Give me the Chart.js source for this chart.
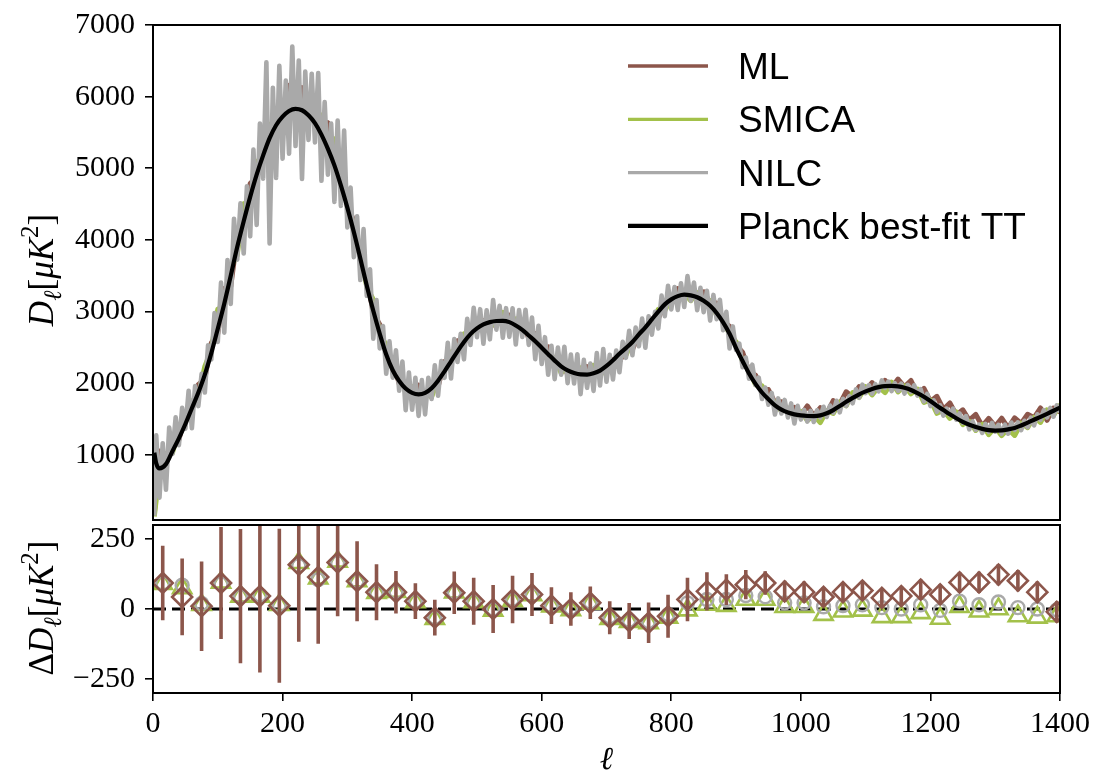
<!DOCTYPE html>
<html>
<head>
<meta charset="utf-8">
<script src="https://cdn.jsdelivr.net/npm/chart.js@4.4.1/dist/chart.umd.min.js"></script>
<style>
  body { margin: 0; background: #fff; }
  #wrap { position: relative; width: 1094px; height: 774px; }
  canvas { position: absolute; left: 0; }
  #top { top: 0; }
  #bottom { top: 500px; }
</style>
</head>
<body>
<div id="wrap">
  <canvas id="top" width="1094" height="545"></canvas>
  <canvas id="bottom" width="1094" height="274"></canvas>
</div>
<script>
// --- data ---

// multipole grids
const nilcEll = [2].concat(Array.from({length: 280}, (_, i) => 5 + 5 * i));
const mapEll = [2].concat(Array.from({length: 140}, (_, i) => 10 + 10 * i));
const fitEll = [2, 5].concat(Array.from({length: 140}, (_, i) => 10 + 10 * i));
const binEll = Array.from({length: 47}, (_, i) => 15 + 30 * i);

// D_ell of NILC map (every 5th multipole)
const nilc = [150, 1272, 402, 1162, 512, 1382, 1015, 1525, 1135, 1655, 1365, 1895, 1370, 1960, 1680, 2130, 1870, 2530, 2330, 2980,
  2575, 3405, 2705, 3720, 3105, 4295, 3725, 4510, 3810, 4750,
  4050, 5260, 4210, 5625, 4855, 6480, 3950, 6125, 4865, 6430,
  5135, 6225, 5205, 6700, 5310, 6505, 4850, 6350, 5395, 6320,
  5360, 6330, 4825, 5925, 4910, 5625, 4530, 5665, 4475, 5525,
  4175, 4730, 3760, 4330, 3440, 4150, 3220, 3590, 2620, 3160,
  2486, 2798, 2132, 2583, 2077, 2459, 1894, 2301, 1623, 2149,
  1629, 2076, 1543, 2043, 1565, 2075, 1780, 2250, 1825, 2310,
  2075, 2565, 2065, 2615, 2295, 2690, 2333, 2898, 2533, 3053,
  2643, 3033, 2550, 3018, 2612, 3162, 2748, 3080, 2635, 3047,
  2647, 3045, 2540, 3020, 2645, 3025, 2535, 2915, 2335, 2800,
  2267, 2642, 2117, 2522, 2057, 2497, 2118, 2508, 2001, 2401,
  1995, 2403, 1847, 2325, 1935, 2273, 1893, 2420, 1967, 2477,
  2020, 2396, 2052, 2457, 2154, 2578, 2354, 2730, 2391, 2777,
  2515, 2901, 2495, 2934, 2677, 2996, 2764, 3222, 2936, 3360,
  3030, 3343, 3021, 3394, 3065, 3494, 3151, 3405, 3018, 3332,
  2992, 3290, 2874, 3232, 2894, 3165, 2740, 2996, 2484, 2792,
  2463, 2553, 2223, 2358, 2063, 2258, 1974, 2079, 1779, 1939,
  1699, 1864, 1562, 1787, 1577, 1767, 1522, 1717, 1437, 1684,
  1492, 1627, 1464, 1612, 1458, 1622, 1518, 1671, 1528, 1688,
  1587, 1754, 1592, 1782, 1682, 1820, 1720, 1915, 1800, 1980,
  1860, 1974, 1853, 1986, 1886, 2038, 1933, 2023, 1890, 1999,
  1891, 1994, 1855, 1977, 1880, 1970, 1827, 1915, 1745, 1851,
  1681, 1761, 1600, 1690, 1548, 1646, 1561, 1645, 1490, 1577,
  1449, 1540, 1355, 1467, 1347, 1422, 1305, 1432, 1322, 1446,
  1323, 1419, 1293, 1420, 1296, 1450, 1348, 1453, 1343, 1475,
  1386, 1518, 1410, 1566, 1490, 1623, 1521, 1654, 1532, 1690,
  1593];

// D_ell of ML map (every 10th multipole)
const ml = [170, 1053, 888, 1173, 1213, 1563, 1620, 1980, 2060, 2563,
  2693, 3323, 3346, 4046, 4126, 4786, 4876, 5386, 5232, 5732,
  5592, 6158, 5888, 6128, 5734, 5924, 5504, 5636, 5066, 5026,
  4469, 4269, 3739, 3470, 2980, 2820, 2420, 2320, 1990, 2013,
  1823, 1973, 1789, 1971, 1950, 2304, 2327, 2593, 2540, 2758,
  2721, 2874, 2762, 2913, 2823, 2949, 2803, 2869, 2627, 2691,
  2444, 2507, 2282, 2307, 2124, 2223, 2108, 2232, 2097, 2189,
  2153, 2331, 2297, 2482, 2469, 2680, 2703, 2897, 2904, 3116,
  3095, 3319, 3234, 3315, 3221, 3276, 3115, 3119, 2870, 2794,
  2529, 2433, 2162, 2113, 1909, 1910, 1729, 1741, 1593, 1661,
  1554, 1682, 1543, 1657, 1575, 1757, 1708, 1880, 1805, 1951,
  1887, 2008, 1905, 2040, 1936, 2057, 1949, 2038, 1849, 1927,
  1746, 1817, 1637, 1724, 1557, 1628, 1483, 1563, 1401, 1508,
  1397, 1511, 1376, 1516, 1439, 1566, 1518, 1654, 1482, 1653,
  1594];

// D_ell of SMICA map (every 10th multipole)
const smica = [140, 765, 1020, 1025, 1375, 1455, 1745, 1825, 2235, 2465,
  3035, 3065, 3625, 3785, 4505, 4525, 5095, 5125, 5615, 5455,
  5855, 5785, 6075, 5775, 5990, 5640, 5740, 5320, 5410, 4830,
  4640, 4140, 3880, 3338, 3168, 2688, 2532, 2192, 2182, 1870,
  1950, 1780, 1866, 1805, 2063, 2180, 2437, 2451, 2690, 2665,
  2871, 2752, 2883, 2791, 2990, 2828, 2898, 2750, 2796, 2563,
  2559, 2334, 2361, 2142, 2238, 2094, 2214, 2086, 2248, 2095,
  2268, 2236, 2393, 2389, 2600, 2588, 2779, 2805, 3033, 3014,
  3182, 3148, 3259, 3151, 3265, 3131, 3152, 2950, 2932, 2667,
  2578, 2302, 2193, 1976, 1964, 1773, 1740, 1608, 1652, 1525,
  1606, 1478, 1552, 1450, 1616, 1577, 1736, 1684, 1870, 1800,
  1952, 1836, 1949, 1868, 2014, 1879, 1963, 1851, 1918, 1732,
  1764, 1579, 1623, 1509, 1598, 1421, 1468, 1340, 1426, 1281,
  1386, 1268, 1362, 1270, 1441, 1380, 1524, 1452, 1627, 1550,
  1707];

// Planck best-fit TT
const bestFit = [1030, 880, 810, 870, 1050, 1230, 1430, 1650, 1870, 2120, 2420,
  2760, 3110, 3500, 3900, 4260, 4600, 4910, 5180, 5420, 5600,
  5720, 5800, 5830, 5810, 5740, 5630, 5470, 5270, 5040, 4760,
  4450, 4110, 3740, 3360, 3010, 2690, 2400, 2180, 2030, 1925,
  1865, 1845, 1865, 1930, 2035, 2165, 2305, 2445, 2575, 2685,
  2765, 2820, 2852, 2868, 2870, 2852, 2805, 2745, 2665, 2585,
  2495, 2405, 2315, 2235, 2178, 2142, 2122, 2120, 2138, 2175,
  2240, 2320, 2410, 2490, 2575, 2680, 2780, 2890, 3000, 3100,
  3170, 3215, 3235, 3225, 3200, 3150, 3080, 2980, 2850, 2690,
  2490, 2310, 2135, 1990, 1870, 1775, 1690, 1630, 1590, 1565,
  1550, 1542, 1540, 1550, 1580, 1625, 1680, 1740, 1795, 1845,
  1885, 1920, 1945, 1960, 1962, 1955, 1935, 1905, 1860, 1810,
  1750, 1685, 1625, 1565, 1510, 1461, 1420, 1388, 1362, 1345,
  1338, 1340, 1355, 1375, 1410, 1450, 1490, 1530, 1572, 1615,
  1660];

// binned residuals w.r.t. best fit
const mlRes = [93, 43, 10, 93, 46, 46, 12, 158, 114, 166, 99, 60, 60, 28, -31, 58, 28, 0, 34, 52,
  12, 0, 22, -31, -43, -49, -26, 34, 63, 69, 87, 93, 63, 60, 43, 60, 66, 40, 46, 69,
  52, 95, 95, 123, 101, 60, -10];
const mlErr = [133, 137, 160, 200, 240, 273, 275, 275, 238, 192, 143, 100, 76, 64, 64, 76, 84, 86, 85, 77,
  66, 60, 58, 59, 64, 72, 77, 78, 68, 55, 52, 42, 38, 38, 36, 35, 35, 35, 35, 36,
  36, 37, 38, 38, 38, 38, 38];
const smicaRes = [90, 75, 15, 95, 45, 45, 15, 165, 110, 170, 100, 58, 62, 25, -35, 60, 25, -5, 30, 50,
  10, -3, 20, -35, -45, -50, -30, -4, 16, 12, 34, 34, 8, 8, -20, -8, -5, -28, -28, -14,
  -34, 8, -8, 0, -25, -30, -25];
const nilcRes = [92, 85, 20, 90, 45, 50, 15, 155, 105, 165, 100, 60, 62, 28, -30, 60, 28, 0, 35, 50,
  12, 3, 25, -28, -40, -45, -20, 22, 34, 34, 48, 44, 22, 22, 8, 12, 15, 5, 0, 15,
  -5, 28, 15, 25, 5, 0, -3];

// tick labels
const topTicks = [1000, 2000, 3000, 4000, 5000, 6000, 7000];
const resTicks = [-250, 0, 250];
const xTicks = [0, 200, 400, 600, 800, 1000, 1200, 1400];

// --- styling ---
const ML_COLOR = '#8c564b';
const SMICA_COLOR = '#a3c14a';
const NILC_COLOR = '#a9a9a9';
const SERIF = "'Liberation Serif', 'DejaVu Serif', serif";
const SANS = "'Liberation Sans', 'DejaVu Sans', sans-serif";
const AXIS_LEFT = 153;

function pts(xs, ys) {
  return xs.map((x, i) => ({x: x, y: ys[i]}));
}

const framePlugin = {
  id: 'frame',
  afterDraw(chart) {
    const {ctx, chartArea: a} = chart;
    ctx.save();
    ctx.strokeStyle = '#000';
    ctx.lineWidth = 2;
    ctx.strokeRect(a.left, a.top, a.right - a.left, a.bottom - a.top);
    ctx.restore();
  }
};

// D_ell [mu K^2] style label, pieces laid out left to right
function drawMath(ctx, parts, x, y, size, rotate) {
  ctx.save();
  ctx.translate(x, y);
  if (rotate) ctx.rotate(-Math.PI / 2);
  let total = 0;
  const font = p => (p.it ? 'italic ' : '') + Math.round(size * (p.s || 1)) + 'px ' + SERIF;
  parts.forEach(p => {
    ctx.font = font(p);
    p.w = ctx.measureText(p.t).width;
    total += p.w;
  });
  let cx = -total / 2;
  ctx.fillStyle = '#000';
  ctx.textBaseline = 'alphabetic';
  ctx.textAlign = 'left';
  parts.forEach(p => {
    ctx.font = font(p);
    ctx.fillText(p.t, cx, (p.dy || 0) * size);
    cx += p.w;
  });
  ctx.restore();
}

const unitParts = [
  {t: 'D', it: true},
  {t: 'ℓ', it: true, s: 0.7, dy: 0.22},
  {t: '['},
  {t: 'μ', it: true},
  {t: 'K', it: true},
  {t: '2', s: 0.7, dy: -0.42},
  {t: ']'}
];

const topDecor = {
  id: 'topDecor',
  afterDraw(chart) {
    const ctx = chart.ctx;
    drawMath(ctx, unitParts.map(p => Object.assign({}, p)), 53, 270, 35, true);
    // legend, ML first
    const rows = [3, 2, 1, 0].map(i => chart.data.datasets[i]);
    ctx.save();
    rows.forEach((ds, k) => {
      const y = 66 + k * 53.3;
      ctx.strokeStyle = ds.borderColor;
      ctx.lineWidth = ds.order === 0 ? 4.2 : 3.3;
      ctx.beginPath();
      ctx.moveTo(628, y);
      ctx.lineTo(708, y);
      ctx.stroke();
      ctx.fillStyle = '#000';
      ctx.font = '37px ' + SANS;
      ctx.textBaseline = 'alphabetic';
      ctx.fillText(ds.label, 738, y + 13);
    });
    ctx.restore();
  }
};

const bottomDecor = {
  id: 'bottomDecor',
  afterDraw(chart) {
    const ctx = chart.ctx;
    drawMath(ctx, [{t: 'Δ'}].concat(unitParts.map(p => Object.assign({}, p))), 53, 108, 35, true);
    ctx.save();
    ctx.fillStyle = '#000';
    ctx.font = 'italic 32px ' + SERIF;
    ctx.textAlign = 'center';
    ctx.textBaseline = 'alphabetic';
    ctx.fillText('ℓ', (chart.chartArea.left + chart.chartArea.right) / 2, 269);
    ctx.restore();
  }
};

const tickFont = {family: SERIF, size: 30, lineHeight: 1};
const gridOpts = {drawOnChartArea: false, tickLength: 8, lineWidth: 1.6, tickWidth: 1.6, tickColor: '#000', color: '#000'};
const plainNum = v => v < 0 ? '\u2212' + Math.abs(v) : String(v);

new Chart(document.getElementById('top'), {
  type: 'line',
  data: {
    datasets: [
      {label: 'Planck best-fit TT', data: pts(fitEll, bestFit), borderColor: '#000', borderWidth: 4.2,
        pointRadius: 0, cubicInterpolationMode: 'monotone', order: 0},
      {label: 'NILC', data: pts(nilcEll, nilc), borderColor: NILC_COLOR, borderWidth: 4.6,
        pointRadius: 0, tension: 0, borderJoinStyle: 'round', order: 1},
      {label: 'SMICA', data: pts(mapEll, smica), borderColor: SMICA_COLOR, borderWidth: 5,
        pointRadius: 0, tension: 0, borderJoinStyle: 'round', order: 2},
      {label: 'ML', data: pts(mapEll, ml), borderColor: ML_COLOR, borderWidth: 5,
        pointRadius: 0, tension: 0, borderJoinStyle: 'round', order: 3}
    ]
  },
  options: {
    responsive: false,
    animation: false,
    devicePixelRatio: 1,
    layout: {padding: {top: 19, right: 34, bottom: 20, left: 0}},
    plugins: {legend: {display: false}, tooltip: {enabled: false}},
    scales: {
      x: {type: 'linear', min: 0, max: 1400, display: false},
      y: {
        type: 'linear', min: 90, max: 7000,
        afterBuildTicks: s => { s.ticks = topTicks.map(v => ({value: v})); },
        afterFit: s => { s.width = AXIS_LEFT; },
        grid: gridOpts,
        border: {display: false},
        ticks: {color: '#000', font: tickFont, padding: 10, callback: plainNum}
      }
    }
  },
  plugins: [framePlugin, topDecor]
});

const errBars = [];
binEll.forEach((l, i) => {
  errBars.push({x: l, y: mlRes[i] - mlErr[i]}, {x: l, y: mlRes[i] + mlErr[i]}, {x: l, y: null});
});

new Chart(document.getElementById('bottom'), {
  type: 'line',
  data: {
    datasets: [
      {label: 'ML', data: pts(binEll, mlRes), showLine: false, pointStyle: 'rectRot', pointRadius: 10,
        pointBorderWidth: 2.6, pointBorderColor: ML_COLOR, pointBackgroundColor: 'rgba(0,0,0,0)', order: 0},
      {label: 'ML err', data: errBars, borderColor: ML_COLOR, borderWidth: 3.6, pointRadius: 0,
        spanGaps: false, borderCapStyle: 'butt', order: 1},
      {label: 'NILC', data: pts(binEll, nilcRes), showLine: false, pointStyle: 'circle', pointRadius: 6.5,
        pointBorderWidth: 2.4, pointBorderColor: NILC_COLOR, pointBackgroundColor: 'rgba(0,0,0,0)', order: 2},
      {label: 'SMICA', data: pts(binEll, smicaRes), showLine: false, pointStyle: 'triangle', pointRadius: 10.5,
        pointBorderWidth: 2.6, pointBorderColor: SMICA_COLOR, pointBackgroundColor: 'rgba(0,0,0,0)', order: 3},
      {label: 'zero', data: [{x: 0, y: 0}, {x: 1400, y: 0}], borderColor: '#000', borderWidth: 3.2,
        borderDash: [13, 6], pointRadius: 0, order: 4}
    ]
  },
  options: {
    responsive: false,
    animation: false,
    devicePixelRatio: 1,
    layout: {padding: {top: 25, right: 34, bottom: 0, left: 0}},
    plugins: {legend: {display: false}, tooltip: {enabled: false}},
    scales: {
      x: {
        type: 'linear', min: 0, max: 1400,
        afterBuildTicks: s => { s.ticks = xTicks.map(v => ({value: v})); },
        afterFit: s => { s.height = 81; s.paddingLeft = 10; s.paddingRight = 10; },
        grid: gridOpts,
        border: {display: false},
        ticks: {color: '#000', font: tickFont, padding: 8, maxRotation: 0, autoSkip: false, callback: plainNum}
      },
      y: {
        type: 'linear', min: -300, max: 300,
        afterBuildTicks: s => { s.ticks = resTicks.map(v => ({value: v})); },
        afterFit: s => { s.width = AXIS_LEFT; },
        grid: gridOpts,
        border: {display: false},
        ticks: {color: '#000', font: tickFont, padding: 10, callback: plainNum}
      }
    }
  },
  plugins: [framePlugin, bottomDecor]
});
</script>
</body>
</html>
